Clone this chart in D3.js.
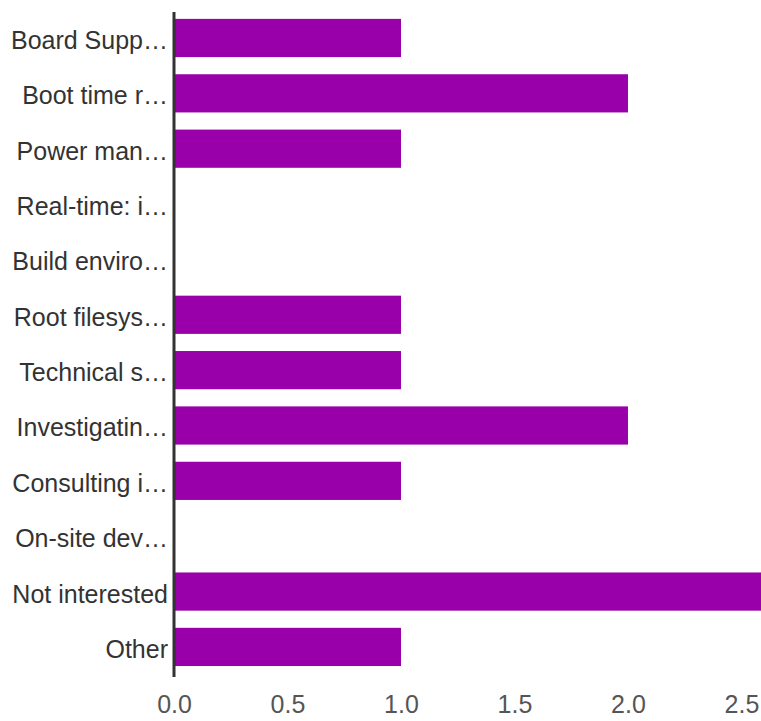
<!DOCTYPE html>
<html><head><meta charset="utf-8">
<script src="https://cdn.jsdelivr.net/npm/d3@7"></script>
<style>html,body{margin:0;padding:0;background:#fff;}</style>
</head><body>
<svg id="chart" width="761" height="721"></svg>
<script>
const categories = ["Board Supp…","Boot time r…","Power man…","Real-time: i…","Build enviro…","Root filesys…","Technical s…","Investigatin…","Consulting i…","On-site dev…","Not interested","Other"];
const values = [1,2,1,0,0,1,1,2,1,0,3,1];
const tickValues = [0,0.5,1,1.5,2,2.5];

const svg = d3.select("#chart");
const mLeft = 174, mRight = 761, mTop = 10.3, mBottom = 674.6;
const x = d3.scaleLinear().domain([0, 2.586]).range([mLeft, mRight]);
const y = d3.scaleBand().domain(categories).range([mTop, mBottom]).paddingInner(0.31).paddingOuter(0.155);

svg.append("clipPath").attr("id","clip").append("rect")
  .attr("x", mLeft).attr("y", 0).attr("width", mRight-mLeft).attr("height", 721);

svg.append("g").attr("clip-path","url(#clip)")
  .selectAll("rect").data(categories).join("rect")
  .attr("x", x(0))
  .attr("y", d => y(d))
  .attr("height", y.bandwidth())
  .attr("width", (d,i) => x(values[i]) - x(0))
  .attr("fill", "#9900aa");

const yAxis = svg.append("g").attr("transform", `translate(${mLeft},0)`)
  .call(d3.axisLeft(y).tickSize(0).tickPadding(6));
yAxis.select(".domain").remove();
yAxis.selectAll("text").attr("font-family","Liberation Sans, Arial, sans-serif").attr("font-size",25).attr("fill","#333").attr("dy","0.44em");

svg.append("line").attr("x1", mLeft).attr("x2", mLeft).attr("y1", 12).attr("y2", 677)
  .attr("stroke","#333").attr("stroke-width",3);

const xAxis = svg.append("g").attr("transform", `translate(0,${mBottom})`)
  .call(d3.axisBottom(x).tickValues(tickValues).tickFormat(d3.format(".1f")).tickSize(0).tickPadding(21));
xAxis.select(".domain").remove();
xAxis.selectAll("text").attr("font-family","Liberation Sans, Arial, sans-serif").attr("font-size",25).attr("fill","#555");
</script>
</body></html>
